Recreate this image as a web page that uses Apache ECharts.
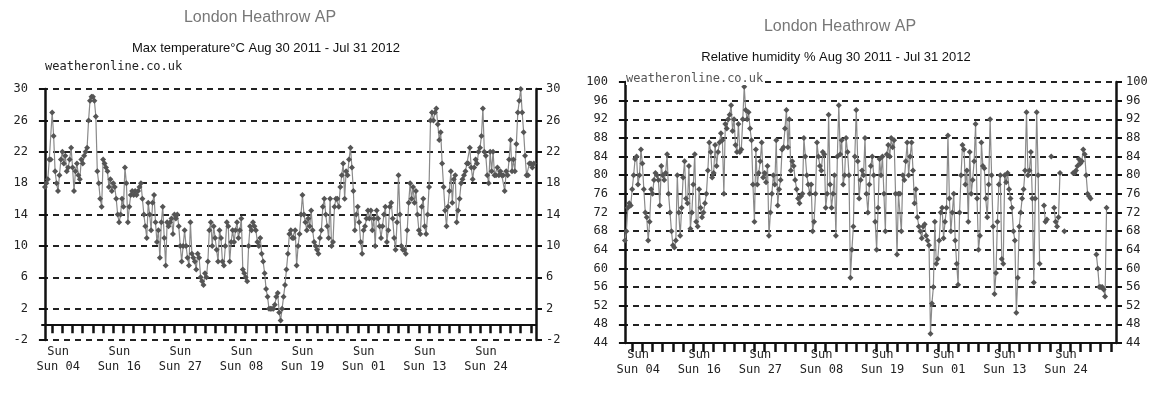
<!DOCTYPE html>
<html>
<head>
<meta charset="utf-8">
<title>London Heathrow AP</title>
<script src="https://cdn.jsdelivr.net/npm/echarts@6/dist/echarts.min.js"></script>
<style>
  html, body { margin: 0; padding: 0; background: #fff; }
  #chart { width: 1161px; height: 394px; }
</style>
</head>
<body>
<div id="chart"></div>
<script>
// one value per day, Aug 30 2011 .. Jul 31 2012
const startDate = '2011-08-30';

const maxTemp = [
  17.5, 18, 18.5, 21, 21, 27, 24, 19.5, 18, 17,
  19, 21, 22, 20.5, 21.5, 19.5, 20, 21, 22.5, 20,
  17, 19.5, 20.5, 19, 18.5, 21, 20.5, 21.5, 22, 22.5,
  26, 28.5, 29, 29, 28.5, 26.5, 19.5, 18, 16, 15,
  21, 20.5, 20, 19.5, 17.5, 18.5, 17, 18, 17.5, 16,
  14, 13, 14, 16, 15, 20, 18, 13, 15, 16.5,
  17, 16.5, 17, 16.5, 17, 17.5, 18, 16, 14, 12.5,
  11, 15.5, 14, 12, 15.5, 16.5, 13, 10.5, 12, 8.5,
  13, 15, 11, 7.5, 13, 12.5, 13, 13.5, 11.5, 14,
  13.5, 14, 12.5, 10, 8, 10, 12, 10, 8.5, 7.5,
  13, 9, 8.5, 8, 7, 9, 8.5, 6, 5.5, 5,
  6.5, 6, 8, 12, 13, 10, 12.5, 11, 9.5, 8,
  12, 11, 8, 7.5, 10, 13, 12.5, 8, 10.5, 12,
  10.5, 12, 13, 11, 12, 13.5, 7, 6.5, 6, 5.5,
  10, 12.5, 12, 13, 12.5, 12, 10.5, 10, 11, 9,
  8, 6.5, 4.5, 3.5, 2, 2, 2, 2, 2.5, 3.5,
  4, 1.5, 0.5, 2, 3.5, 5, 7, 9, 11.5, 12,
  11, 11, 12, 7.5, 10, 11.5, 14, 16.5, 14, 13,
  12, 13.5, 12.5, 14.5, 12, 10.5, 10, 9.5, 9, 11,
  12, 15, 16, 14, 12.5, 11, 16, 10, 10.5, 15,
  16, 16, 15, 17.5, 19, 20.5, 16, 19.5, 19, 21,
  22.5, 20, 17, 12, 14, 15, 13, 10.5, 9, 12,
  12.5, 13.5, 14.5, 13.5, 14.5, 12, 13.5, 10, 14.5, 13.5,
  12.5, 11, 12.5, 14, 15, 10.5, 12, 15, 15.5, 13.5,
  11, 9.5, 13, 19, 14, 10, 9.5, 9.5, 9, 12,
  15.5, 18, 16, 17.5, 15.5, 17, 14, 12, 11.5, 15,
  16, 12.5, 11.5, 14, 17.5, 26, 27, 26, 27, 27.5,
  25.5, 23.5, 24.5, 20.5, 17.5, 14.5, 12.5, 15, 17, 19.5,
  15.5, 18.5, 19, 13, 14.5, 16, 18, 18.5, 19, 19.5,
  20.5, 20.5, 22.5, 20, 18.5, 20, 21, 20.5, 22, 22.5,
  24, 27.5, 22, 21.5, 19, 18, 22, 19.5, 22, 19,
  19, 20, 19, 19.5, 19, 19, 17, 19.5, 19, 21,
  23.5, 19.5, 21, 19.5, 23, 27, 28.5, 30, 27, 24.5,
  21.5, 19, 19, 20.5, 20.5, 20, 20.5
];

// null = no reading that day
const humidity = [
  66, 68, 73, 74, 73.5, 77, 80, 83.5, 84, 78,
  80, 85.5, 82.5, 77, 72, 71, 66, 70, 77, 76,
  79, 80.5, 80, 79, 73.5, 82, 80, 79, 80.5, 84.5,
  76, 72, 68, 65, 64.5, 66, 80, 72, 67, 73,
  79.5, 83, 75, 74, 82, 68.5, 72, 78, 84.5, 70,
  69, 77, 73, 71, 72, 74, 76, 81, 87, 85,
  79.5, 80.5, 86.5, 82, 85, 87, 89, 87.5, 76, 91,
  90, 92, 93, 95, 89.5, 92, 86.5, 85, 91, 85,
  85.5, 92, 99, 94, 92, 93.5, 90, 87.5, 78, 70,
  85.5, 78, 80.5, 83, 87, 79.5, 80.5, 78.5, 82, 67,
  72, 76, 80, 78, 87.5, 73.5, 77, 79, 85.5, 86,
  90, 94, 86, 92, 81, 83, 82, 79, 77, 75,
  74, 75.5, 76, 88, 84, 80, 78, 76, 78, 68,
  70, 76, 87, 84, 82, 81, 85, 84.5, 73, 76,
  93, 78, 73, 76, 80, 67, 84, 95, 84.5, 87.5,
  78, 80, 88, 85, 80, 58, 64, 69, 84, 94,
  83, 75, 79, 81, 80, 88, 76, 72, 78, 82,
  84, 80, 70, 64, 73, 83.5, 80, 84, 76, 68,
  84.5, 86.5, 84, 88, 86, 87.5, 76, 63, 76, 76,
  68, 80, 79, 83, 87, 80, 84, 87, 81, 74,
  77, 71, 69, 68, 66.5, 69, 69.5, 67, 66, 65,
  46, 52.5, 56, 70, 61, 62, 66, 72, 73, 66.5,
  70, 73, 88.5, 75, 68, 72, 76, 66, 61, 56.5,
  72, 80, 86.5, 85.5, 78, 81, 70, 85, 76, 79,
  83, 91, 75, 64, 67, 87, 82, 81.5, 75, 71,
  78, 92, 80, 69, 54.5, 59, 70, 78, 80, 62,
  61, 80, 78.5, 80.5, 77, 75, 73, 68, 66, 50.5,
  58, 69, 72, 75, 77, 81, 93.5, 80, 81, 85,
  75, 57, 75, 93.5, 80, 61, null, null, 73.5, 70,
  70.5, null, null, 84, null, 73, 70, 69, 71, 80.5,
  null, null, 68, null, null, null, null, null, 80.5, 80.5,
  81, 82, 83.5, 82.5, 83, 85.5, 84.5, 80, 76, 75.5,
  75, null, null, null, 63, 60, 56, 56, 56, 55.5,
  54, 73, null, null, null, null, null
];

// x labels, every sixth Sunday
const labelDates = ['2011-09-04', '2011-10-16', '2011-11-27', '2012-01-08',
                    '2012-02-19', '2012-04-01', '2012-05-13', '2012-06-24'];
const labelTexts = ['Sun 04', 'Sun 16', 'Sun 27', 'Sun 08',
                    'Sun 19', 'Sun 01', 'Sun 13', 'Sun 24'];

const tempAxis = { min: -2, max: 30, step: 4 };
const humAxis = { min: 44, max: 100, step: 4 };

const DAY = 86400000;
const t0 = Date.parse(startDate);
const dayIndex = s => Math.round((Date.parse(s) - t0) / DAY);

const nDays = maxTemp.length;
const sundays = [];
for (let i = 0; i < nDays; i++) {
  if (new Date(t0 + i * DAY).getUTCDay() === 0) sundays.push(i);
}
const labelIdx = labelDates.map(dayIndex);
const labelByIdx = {};
labelIdx.forEach((d, k) => { labelByIdx[d] = labelTexts[k]; });

const MONO = '"DejaVu Sans Mono", monospace';

function xAxisFor(gridIndex) {
  return {
    type: 'value', gridIndex,
    min: -2, max: nDays + 0.5,
    axisLine: { lineStyle: { color: '#111', width: 2 } },
    axisTick: { customValues: sundays, length: 9, lineStyle: { color: '#111', width: 2.5 } },
    axisLabel: {
      customValues: labelIdx,
      formatter: v => 'Sun\n' + (labelByIdx[v] || ''),
      fontFamily: MONO, fontSize: 12, color: '#222',
      lineHeight: 15, margin: 4, padding: [0, 0, 0, 12]
    },
    splitLine: { show: false }
  };
}

function yAxesFor(gridIndex, ax) {
  const base = {
    type: 'value', gridIndex,
    min: ax.min, max: ax.max, interval: ax.step,
    axisLine: { show: true, lineStyle: { color: '#111', width: 2.5 } },
    axisTick: { show: true, length: 6, lineStyle: { color: '#111', width: 2 } },
    axisLabel: { fontFamily: MONO, fontSize: 12, color: '#222' }
  };
  return [
    Object.assign({}, base, {
      position: 'left',
      axisLabel: Object.assign({}, base.axisLabel, { margin: 14 }),
      splitLine: { show: true, lineStyle: { color: '#222', width: 1.8, type: [6, 5] } }
    }),
    Object.assign({}, base, {
      position: 'right',
      axisLabel: Object.assign({}, base.axisLabel, { margin: 10 }),
      splitLine: { show: false }
    })
  ];
}

function lineSeries(values, axisIdx) {
  return {
    type: 'line',
    xAxisIndex: axisIdx, yAxisIndex: axisIdx * 2,
    data: values.map((v, i) => [i, v == null ? '-' : v]),
    connectNulls: false,
    symbol: 'diamond', symbolSize: 6, showSymbol: true,
    lineStyle: { color: '#8a8a8a', width: 1.2 },
    itemStyle: { color: '#555' },
    animation: false
  };
}

const chart = echarts.init(document.getElementById('chart'));
chart.setOption({
  backgroundColor: '#fff',
  animation: false,
  grid: [
    { left: 42, top: 89, width: 494, height: 251 },
    { left: 622, top: 82, width: 494, height: 261 }
  ],
  xAxis: [xAxisFor(0), xAxisFor(1)],
  yAxis: yAxesFor(0, tempAxis).concat(yAxesFor(1, humAxis)),
  series: [lineSeries(maxTemp, 0), lineSeries(humidity, 1)],
  graphic: [
    { type: 'text', style: { text: 'London Heathrow AP', x: 260, y: 18, align: 'center', verticalAlign: 'middle',
        font: '16px "Liberation Sans", Arial, sans-serif', fill: '#777' } },
    { type: 'text', style: { text: 'Max temperature°C Aug 30 2011 - Jul 31 2012', x: 266, y: 48, align: 'center', verticalAlign: 'middle',
        font: '13px "Liberation Sans Narrow", "Liberation Sans", sans-serif', fill: '#111' } },
    { type: 'text', style: { text: 'weatheronline.co.uk', x: 45, y: 67, verticalAlign: 'middle',
        font: '12px ' + MONO, fill: '#222' } },
    { type: 'text', style: { text: 'London Heathrow AP', x: 840, y: 27, align: 'center', verticalAlign: 'middle',
        font: '16px "Liberation Sans", Arial, sans-serif', fill: '#777' } },
    { type: 'text', style: { text: 'Relative humidity % Aug 30 2011 - Jul 31 2012', x: 836, y: 57, align: 'center', verticalAlign: 'middle',
        font: '13px "Liberation Sans Narrow", "Liberation Sans", sans-serif', fill: '#111' } },
    { type: 'text', z: 10, style: { text: 'weatheronline.co.uk', x: 626, y: 79, verticalAlign: 'middle',
        font: '12px ' + MONO, fill: '#555', backgroundColor: '#fff' } }
  ]
});
</script>
</body>
</html>
